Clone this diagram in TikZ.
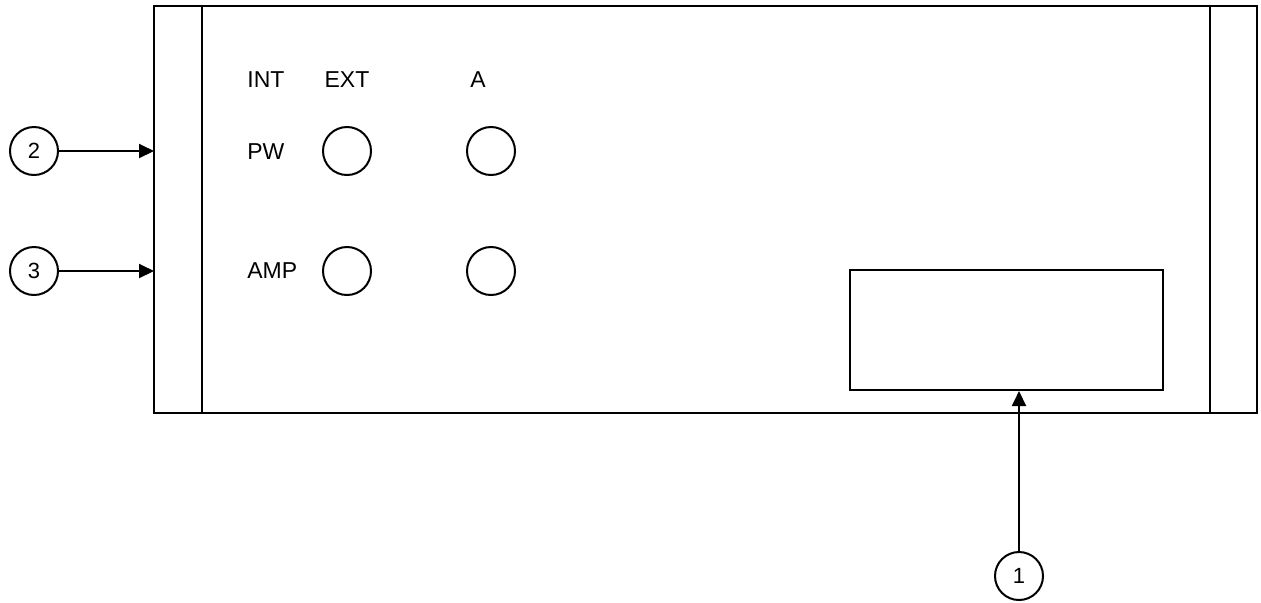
\documentclass[tikz,border=0pt]{standalone}
\usepackage{fontspec}
\setmainfont{Liberation Sans}
\usetikzlibrary{arrows.meta,positioning}
\tikzset{
  callout/.style={draw,circle,line width=1pt,minimum size=24pt,inner sep=0pt,font=\fontsize{11}{13}\selectfont},
  knob/.style={draw,circle,line width=1pt,minimum size=24pt,inner sep=0pt},
  lbl/.style={font=\fontsize{11.5}{13}\selectfont,inner sep=0pt},
  pointer/.style={line width=1pt,-{Triangle[length=7.5pt,width=7pt]}}
}
\begin{document}
\begin{tikzpicture}[x=0.5pt,y=-0.5pt]
  \useasboundingbox (0,0) rectangle (1261,602);
  % Panel with side rails
  \draw[line width=1pt] (154,6) rectangle (1257,413);
  \draw[line width=1pt] (202,6) -- (202,413);
  \draw[line width=1pt] (1210,6) -- (1210,413);
  \coordinate (panelL) at (154,0);
  % Display window
  \node[draw,line width=1pt,minimum width=156.5pt,minimum height=60pt,inner sep=0pt] (disp) at (1006.5,330) {};
  % Column headers
  \node[lbl,anchor=west] (int) at (247,80) {INT};
  \node[lbl] (ext) at (347,80) {EXT};
  \node[lbl] (a) at (478,80) {A};
  % Rows
  \node[lbl,anchor=west] (pw) at (247,152) {PW};
  \node[lbl,anchor=west] (amp) at (247,271) {AMP};
  \node[knob] (pwext) at (347,151) {};
  \node[knob] (pwa) at (491,151) {};
  \node[knob] (ampext) at (347,271) {};
  \node[knob] (ampa) at (491,271) {};
  % Callouts
  \node[callout] (c2) at (34,151) {\raisebox{-1pt}{2}};
  \node[callout] (c3) at (34,271) {3};
  \node[callout] (c1) at (1019,576) {1};
  \draw[pointer] (c2) -- (panelL |- c2);
  \draw[pointer] (c3) -- (panelL |- c3);
  \draw[pointer] (c1) -- (c1 |- disp.south);
\end{tikzpicture}
\end{document}
